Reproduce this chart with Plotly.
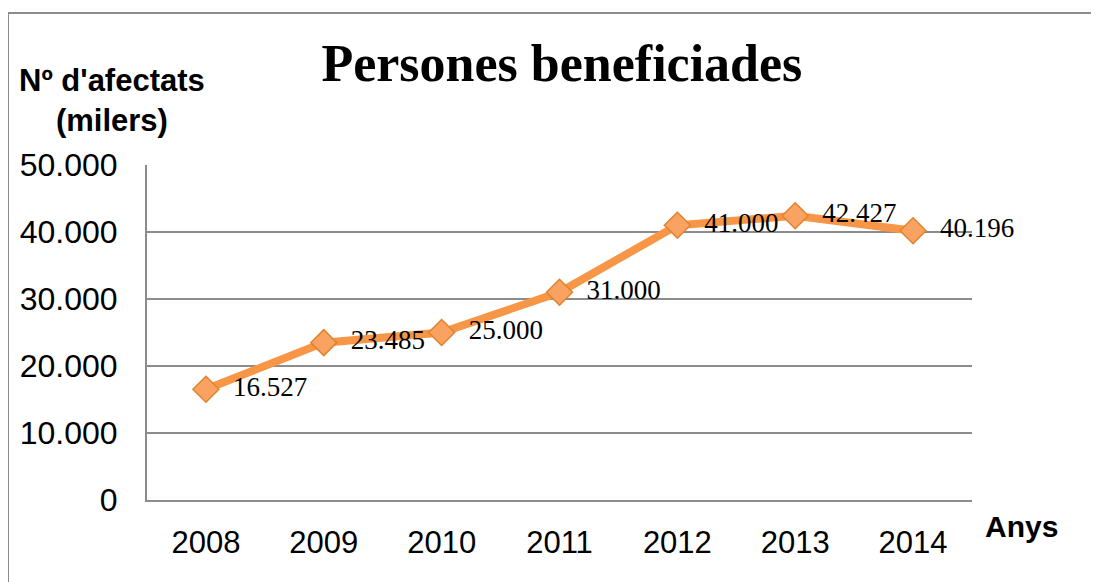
import plotly.graph_objects as go

anys = ["2008", "2009", "2010", "2011", "2012", "2013", "2014"]
persones = [16527, 23485, 25000, 31000, 41000, 42427, 40196]
y_ticks = [0, 10000, 20000, 30000, 40000, 50000]

taronja = "#F79646"

fig = go.Figure()
fig.add_trace(go.Scatter(
    x=anys, y=persones,
    mode="lines+markers+text",
    line=dict(color=taronja, width=8),
    marker=dict(symbol="diamond", size=20, color="#F9A261",
                line=dict(color="#E0832F", width=1.5)),
    texttemplate="\u00a0\u00a0%{y:,}",
    textposition="middle right",
    textfont=dict(family="Liberation Serif", size=27, color="black"),
    cliponaxis=False,
    showlegend=False,
))

# the page puts the figure 8px in from the top-left corner
fig.update_layout(
    width=1099, height=582,
    paper_bgcolor="white", plot_bgcolor="white",
    separators=",.",
    margin=dict(l=139, r=135, t=157, b=90),
    title=dict(text="<b>Persones beneficiades</b>", x=0.504, xanchor="center",
               y=0.905, yanchor="middle",
               font=dict(family="Liberation Serif", size=52, color="black")),
    xaxis=dict(type="category", range=[-0.5, 6.5], showgrid=False,
               showline=True, linecolor="#8c8c8c", linewidth=2,
               ticks="", ticklabelstandoff=14,
               tickfont=dict(family="Liberation Sans", size=31, color="black")),
    yaxis=dict(range=[0, 50000], tickvals=y_ticks, tickformat=",d",
               showgrid=True, gridcolor="#8c8c8c", gridwidth=1.5,
               showline=True, linecolor="#8c8c8c", linewidth=2,
               zeroline=False, ticks="", ticklabelstandoff=21,
               tickfont=dict(family="Liberation Sans", size=32, color="black")),
    annotations=[
        dict(text="<b>Nº d'afectats<br>(milers)</b>", xref="paper", yref="paper",
             x=(112 - 147) / 825, y=(500 - 100) / 335, xanchor="center", yanchor="middle",
             showarrow=False, align="center",
             font=dict(family="Liberation Sans", size=31, color="black")),
        dict(text="<b>Anys</b>", xref="paper", yref="paper",
             x=(1021 - 147) / 825, y=(500 - 526) / 335, xanchor="center", yanchor="middle",
             showarrow=False,
             font=dict(family="Liberation Sans", size=30, color="black")),
    ],
    shapes=[
        dict(type="line", xref="paper", yref="paper",
             x0=(8 - 147) / 825, x1=(1099 - 147) / 825,
             y0=(500 - 13) / 335, y1=(500 - 13) / 335,
             line=dict(color="#8c8c8c", width=2)),
        dict(type="line", xref="paper", yref="paper",
             x0=(8 - 147) / 825, x1=(8 - 147) / 825,
             y0=(500 - 13) / 335, y1=(500 - 582) / 335,
             line=dict(color="#8c8c8c", width=2)),
    ],
)

fig.write_html("out.html")
